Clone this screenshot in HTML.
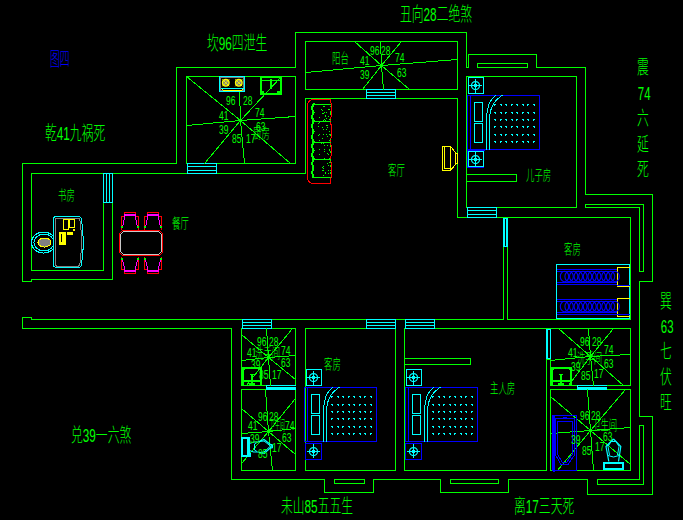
<!DOCTYPE html>
<html><head><meta charset="utf-8"><title>plan</title>
<style>html,body{margin:0;padding:0;background:#000;overflow:hidden}body{width:683px;height:521px;position:relative;font-family:"Liberation Sans",sans-serif}svg{position:absolute;left:0;top:0;display:block}</style>
</head><body>
<svg width="683" height="521" viewBox="0 0 683 521">
<rect width="683" height="521" fill="#000"/>
<g shape-rendering="crispEdges" stroke-linecap="square">
<path d="M112.5,202.5 L112.5,279.5 L31.5,279.5 L31.5,281.5 L22.5,281.5 L22.5,163.5 L176.5,163.5 L176.5,67.5 L295.5,67.5 L295.5,32.5 L466.5,32.5 L466.5,67.5 L468.5,67.5 L468.5,54.5 L536.5,54.5 L536.5,67.5 L585.5,67.5 L585.5,194.5 L652.5,194.5 L652.5,281.5 L639.5,281.5 L639.5,416.5 L652.5,416.5 L652.5,494.5 L587.5,494.5 L587.5,479.5 L508.5,479.5 L508.5,492.5 L440.5,492.5 L440.5,479.5 L373.5,479.5 L373.5,492.5 L324.5,492.5 L324.5,479.5 L231.5,479.5 L231.5,328.5 L22.5,328.5 L22.5,317.5 L31.5,317.5 L31.5,319.5 L503.5,319.5 L503.5,246.5" stroke="#00ff00" stroke-width="1" fill="none" />
<path d="M507.5,246.5 L507.5,319.5 L630.5,319.5 L630.5,217.5 L457.5,217.5 L457.5,98.5 L305.5,98.5 L305.5,173.5 L31.5,173.5 L31.5,270.5 L103.5,270.5 L103.5,202.5" stroke="#00ff00" stroke-width="1" fill="none" />
<rect x="103.5" y="173.5" width="9" height="29" stroke="#00ffff" stroke-width="1" fill="none"/>
<path d="M106.5,173.5 L106.5,202.5" stroke="#00ffff" stroke-width="1" fill="none" />
<path d="M109.5,173.5 L109.5,202.5" stroke="#00ffff" stroke-width="1" fill="none" />
<rect x="186.5" y="76.5" width="109" height="87" stroke="#00ff00" stroke-width="1" fill="none"/>
<rect x="187.5" y="163.5" width="29" height="10" stroke="#00ffff" stroke-width="1" fill="none"/>
<path d="M187.5,166.5 L216.5,166.5" stroke="#00ffff" stroke-width="1" fill="none" />
<path d="M187.5,170.5 L216.5,170.5" stroke="#00ffff" stroke-width="1" fill="none" />
<rect x="305.5" y="41.5" width="152" height="48" stroke="#00ff00" stroke-width="1" fill="none"/>
<rect x="366.5" y="89.5" width="29" height="9" stroke="#00ffff" stroke-width="1" fill="none"/>
<path d="M366.5,92.5 L395.5,92.5" stroke="#00ffff" stroke-width="1" fill="none" />
<path d="M366.5,95.5 L395.5,95.5" stroke="#00ffff" stroke-width="1" fill="none" />
<rect x="466.5" y="76.5" width="110" height="131" stroke="#00ff00" stroke-width="1" fill="none"/>
<rect x="467.5" y="207.5" width="29" height="10" stroke="#00ffff" stroke-width="1" fill="none"/>
<path d="M467.5,210.5 L496.5,210.5" stroke="#00ffff" stroke-width="1" fill="none" />
<path d="M467.5,214.5 L496.5,214.5" stroke="#00ffff" stroke-width="1" fill="none" />
<rect x="477.5" y="63.5" width="50" height="4" stroke="#00ff00" stroke-width="1" fill="none"/>
<path d="M466.5,174.5 L516.5,174.5" stroke="#00ff00" stroke-width="1" fill="none" />
<path d="M466.5,181.5 L516.5,181.5" stroke="#00ff00" stroke-width="1" fill="none" />
<path d="M516.5,174.5 L516.5,181.5" stroke="#00ff00" stroke-width="1" fill="none" />
<path d="M585.5,204.5 L643.5,204.5 L643.5,271.5 L639.5,271.5 L639.5,207.5 L585.5,207.5 Z" stroke="#00ff00" stroke-width="1" fill="none" />
<rect x="503" y="218" width="5" height="29" fill="#00ffff"/>
<rect x="505" y="219" width="1" height="27" fill="#000"/>
<path d="M241.5,328.5 L295.5,328.5" stroke="#00ff00" stroke-width="1" fill="none" />
<rect x="241.5" y="328.5" width="54" height="57" stroke="#00ff00" stroke-width="1" fill="none"/>
<rect x="241.5" y="389.5" width="54" height="81" stroke="#00ff00" stroke-width="1" fill="none"/>
<rect x="266" y="385" width="30" height="5" fill="#00ffff"/>
<rect x="267" y="386" width="29" height="1" fill="#000"/>
<rect x="242.5" y="319.5" width="29" height="9" stroke="#00ffff" stroke-width="1" fill="none"/>
<path d="M242.5,322.5 L271.5,322.5" stroke="#00ffff" stroke-width="1" fill="none" />
<path d="M242.5,325.5 L271.5,325.5" stroke="#00ffff" stroke-width="1" fill="none" />
<path d="M305.5,328.5 L395.5,328.5 L395.5,470.5 L305.5,470.5 Z" stroke="#00ff00" stroke-width="1" fill="none" />
<rect x="366.5" y="319.5" width="29" height="9" stroke="#00ffff" stroke-width="1" fill="none"/>
<path d="M366.5,322.5 L395.5,322.5" stroke="#00ffff" stroke-width="1" fill="none" />
<path d="M366.5,325.5 L395.5,325.5" stroke="#00ffff" stroke-width="1" fill="none" />
<path d="M404.5,328.5 L546.5,328.5 L546.5,470.5 L404.5,470.5 Z" stroke="#00ff00" stroke-width="1" fill="none" />
<path d="M546.5,328.5 L630.5,328.5" stroke="#00ff00" stroke-width="1" fill="none" />
<rect x="405.5" y="319.5" width="29" height="9" stroke="#00ffff" stroke-width="1" fill="none"/>
<path d="M405.5,322.5 L434.5,322.5" stroke="#00ffff" stroke-width="1" fill="none" />
<path d="M405.5,325.5 L434.5,325.5" stroke="#00ffff" stroke-width="1" fill="none" />
<rect x="404.5" y="358.5" width="66" height="6" stroke="#00ff00" stroke-width="1" fill="none"/>
<rect x="550.5" y="328.5" width="80" height="57" stroke="#00ff00" stroke-width="1" fill="none"/>
<rect x="550.5" y="389.5" width="80" height="81" stroke="#00ff00" stroke-width="1" fill="none"/>
<rect x="577" y="385" width="30" height="5" fill="#00ffff"/>
<rect x="578" y="386" width="29" height="1" fill="#000"/>
<rect x="546" y="329" width="2" height="30" fill="#00ffff"/>
<rect x="550" y="329" width="1" height="30" fill="#00ffff"/>
<rect x="546" y="329" width="5" height="1" fill="#00ffff"/>
<rect x="546" y="358" width="5" height="1" fill="#00ffff"/>
<rect x="548" y="330" width="2" height="28" fill="#000"/>
<rect x="334.5" y="479.5" width="30" height="4" stroke="#00ff00" stroke-width="1" fill="none"/>
<rect x="450.5" y="479.5" width="48" height="4" stroke="#00ff00" stroke-width="1" fill="none"/>
<path d="M639.5,425.5 L643.5,425.5 L643.5,484.5 L597.5,484.5 L597.5,479.5 L639.5,479.5 Z" stroke="#00ff00" stroke-width="1" fill="none" />
<path d="M186.5,76.5 L240.5,120.5 L290.5,163.5" stroke="#00ff00" stroke-width="1" fill="none" />
<path d="M204.5,163.5 L240.5,120.5 L280.5,77.5" stroke="#00ff00" stroke-width="1" fill="none" />
<path d="M186.5,125.5 L240.5,120.5 L295.5,116.5" stroke="#00ff00" stroke-width="1" fill="none" />
<path d="M239.5,91.5 L240.5,120.5 L244.5,163.5" stroke="#00ff00" stroke-width="1" fill="none" />
<path d="M354.5,41.5 L381.5,65.5 L409.5,89.5" stroke="#00ff00" stroke-width="1" fill="none" />
<path d="M401.5,41.5 L381.5,65.5 L362.5,89.5" stroke="#00ff00" stroke-width="1" fill="none" />
<path d="M305.5,72.5 L381.5,65.5 L457.5,59.5" stroke="#00ff00" stroke-width="1" fill="none" />
<path d="M380.5,41.5 L381.5,65.5 L383.5,89.5" stroke="#00ff00" stroke-width="1" fill="none" />
<path d="M241.5,334.5 L268.5,357.5 L295.5,379.5" stroke="#00ff00" stroke-width="1" fill="none" />
<path d="M292.5,328.5 L268.5,357.5 L246.5,385.5" stroke="#00ff00" stroke-width="1" fill="none" />
<path d="M266.5,328.5 L268.5,357.5 L270.5,385.5" stroke="#00ff00" stroke-width="1" fill="none" />
<path d="M241.5,360.5 L268.5,357.5 L295.5,355.5" stroke="#00ff00" stroke-width="1" fill="none" />
<path d="M241.5,408.5 L268.5,431.5 L295.5,454.5" stroke="#00ff00" stroke-width="1" fill="none" />
<path d="M295.5,398.5 L268.5,431.5 L241.5,463.5" stroke="#00ff00" stroke-width="1" fill="none" />
<path d="M265.5,389.5 L268.5,431.5 L272.5,470.5" stroke="#00ff00" stroke-width="1" fill="none" />
<path d="M241.5,433.5 L268.5,431.5 L295.5,428.5" stroke="#00ff00" stroke-width="1" fill="none" />
<path d="M558.5,328.5 L590.5,356.5 L623.5,385.5" stroke="#00ff00" stroke-width="1" fill="none" />
<path d="M613.5,328.5 L590.5,356.5 L568.5,385.5" stroke="#00ff00" stroke-width="1" fill="none" />
<path d="M588.5,328.5 L590.5,356.5 L593.5,385.5" stroke="#00ff00" stroke-width="1" fill="none" />
<path d="M550.5,360.5 L590.5,356.5 L630.5,354.5" stroke="#00ff00" stroke-width="1" fill="none" />
<path d="M550.5,396.5 L590.5,430.5 L630.5,464.5" stroke="#00ff00" stroke-width="1" fill="none" />
<path d="M625.5,389.5 L590.5,430.5 L557.5,470.5" stroke="#00ff00" stroke-width="1" fill="none" />
<path d="M587.5,389.5 L590.5,430.5 L593.5,470.5" stroke="#00ff00" stroke-width="1" fill="none" />
<path d="M550.5,433.5 L590.5,430.5 L630.5,427.5" stroke="#00ff00" stroke-width="1" fill="none" />
<g fill="none" stroke-width="1"><ellipse cx="43.5" cy="242.5" rx="12" ry="10.5" stroke="#00ffff"/><ellipse cx="44" cy="242.5" rx="10" ry="8.5" stroke="#00ffff"/><path d="M56,216.5 L79,216.5 Q81.5,217 81.5,220 Q85,241 81.5,264 Q81.5,267 79,267.5 L56,267.5 Q53.5,267 53.5,265 L53.5,219 Q53.5,217 56,216.5 Z" stroke="#00ffff" fill="#000"/><path d="M56,218 L78.5,218 Q80,218.5 80,221 Q83,241 80,263 Q80,265.5 78.5,266 L56.5,266 Q55,265.5 55,264 L55,220 Q55,218.5 56,218 Z" stroke="#808080"/><ellipse cx="44.5" cy="242.5" rx="6.5" ry="4.5" stroke="#ffff00" fill="#808080"/></g>
<rect x="63.5" y="219.5" width="5" height="10" stroke="#ffff00" stroke-width="1" fill="none"/>
<rect x="69.5" y="219.5" width="5" height="8" stroke="#ffff00" stroke-width="1" fill="none"/>
<rect x="59" y="232" width="7" height="13" fill="#ffff00"/>
<rect x="61" y="234" width="1" height="8" fill="#000"/>
<rect x="67" y="232" width="6" height="3" fill="#ffff00"/>
<rect x="73" y="229" width="2" height="2" fill="#ffff00"/>
<path d="M122.5,230.5 L159.5,230.5 L162.5,233.5 L162.5,252.5 L159.5,255.5 L122.5,255.5 L119.5,252.5 L119.5,233.5 Z" stroke="#ff0000" stroke-width="1" fill="none" />
<path d="M123.5,231.5 L158.5,231.5 L161.5,234.5 L161.5,251.5 L158.5,254.5 L123.5,254.5 L120.5,251.5 L120.5,234.5 Z" stroke="#c8c8c8" stroke-width="1" fill="none" />
<path d="M121.5,229.5 L121.5,216.5 L124.5,216.5 L124.5,212.5 L135.5,212.5 L135.5,216.5 L138.5,216.5 L138.5,229.5" stroke="#ff0000" stroke-width="1" fill="none" />
<path d="M122.5,227.5 L124.5,217.5 L124.5,214.5 L135.5,214.5 L135.5,217.5 L137.5,227.5" stroke="#ff00ff" stroke-width="1" fill="none" />
<path d="M124.5,215.5 L135.5,215.5" stroke="#ff00ff" stroke-width="1" fill="none" />
<rect x="121" y="226" width="2" height="2" fill="#00ff00"/>
<rect x="137" y="226" width="2" height="2" fill="#00ff00"/>
<path d="M144.5,229.5 L144.5,216.5 L147.5,216.5 L147.5,212.5 L158.5,212.5 L158.5,216.5 L161.5,216.5 L161.5,229.5" stroke="#ff0000" stroke-width="1" fill="none" />
<path d="M145.5,227.5 L147.5,217.5 L147.5,214.5 L158.5,214.5 L158.5,217.5 L160.5,227.5" stroke="#ff00ff" stroke-width="1" fill="none" />
<path d="M147.5,215.5 L158.5,215.5" stroke="#ff00ff" stroke-width="1" fill="none" />
<rect x="144" y="226" width="2" height="2" fill="#00ff00"/>
<rect x="160" y="226" width="2" height="2" fill="#00ff00"/>
<path d="M121.5,257.5 L121.5,269.5 L124.5,269.5 L124.5,273.5 L135.5,273.5 L135.5,269.5 L138.5,269.5 L138.5,257.5" stroke="#ff0000" stroke-width="1" fill="none" />
<path d="M122.5,259.5 L124.5,268.5 L124.5,271.5 L135.5,271.5 L135.5,268.5 L137.5,259.5" stroke="#ff00ff" stroke-width="1" fill="none" />
<path d="M124.5,270.5 L135.5,270.5" stroke="#ff00ff" stroke-width="1" fill="none" />
<rect x="121" y="258" width="2" height="2" fill="#00ff00"/>
<rect x="137" y="258" width="2" height="2" fill="#00ff00"/>
<path d="M144.5,257.5 L144.5,269.5 L147.5,269.5 L147.5,273.5 L158.5,273.5 L158.5,269.5 L161.5,269.5 L161.5,257.5" stroke="#ff0000" stroke-width="1" fill="none" />
<path d="M145.5,259.5 L147.5,268.5 L147.5,271.5 L158.5,271.5 L158.5,268.5 L160.5,259.5" stroke="#ff00ff" stroke-width="1" fill="none" />
<path d="M147.5,270.5 L158.5,270.5" stroke="#ff00ff" stroke-width="1" fill="none" />
<rect x="144" y="258" width="2" height="2" fill="#00ff00"/>
<rect x="160" y="258" width="2" height="2" fill="#00ff00"/>
<rect x="219.5" y="76.5" width="25" height="15" stroke="#00ffff" stroke-width="1" fill="none"/>
<rect x="220.5" y="77.5" width="23" height="13" stroke="#808080" stroke-width="1" fill="none"/>
<path d="M221.5,88.5 L243.5,88.5" stroke="#00ffff" stroke-width="1" fill="none" />
<path d="M222.5,89.5 L223.5,90.5 L241.5,90.5 L242.5,89.5" stroke="#ffff00" stroke-width="1" fill="none" />
<rect x="260.5" y="76.5" width="20" height="17" stroke="#00ff00" stroke-width="2" fill="none"/>
<path d="M262.5,80.5 L279.5,80.5" stroke="#00ff00" stroke-width="1" fill="none" />
<path d="M270.5,79.5 L270.5,87.5" stroke="#00ff00" stroke-width="2" fill="none" />
<rect x="261" y="91" width="3" height="3" fill="#00ff00"/>
<rect x="277" y="91" width="3" height="3" fill="#00ff00"/>
<path d="M330.5,99.5 L313,99.5 Q307.5,100 307.5,106 L307.5,177 Q307.5,183 313,183.5 L330.5,183.5" stroke="#ff0000" fill="none"/>
<path d="M330.5,99.5 Q332.5,110 330.5,121 Q332.5,131 330.5,142 Q332.5,150 330.5,159 Q332.5,168 330.5,183.5" stroke="#ff0000" fill="none"/>
<path d="M312.5,104.5 L330.5,104.5" stroke="#00ff00" stroke-width="1" fill="none" />
<path d="M313.5,104 Q311,108.25 313.5,112.5 Q311,116.75 313.5,121" stroke="#00ff00" stroke-width="2" fill="none"/>
<path d="M312.5,121.5 L330.5,121.5" stroke="#00ff00" stroke-width="1" fill="none" />
<path d="M313.5,121 Q311,126.25 313.5,131.5 Q311,136.75 313.5,142" stroke="#00ff00" stroke-width="2" fill="none"/>
<path d="M312.5,142.5 L330.5,142.5" stroke="#00ff00" stroke-width="1" fill="none" />
<path d="M313.5,142 Q311,146.25 313.5,150.5 Q311,154.75 313.5,159" stroke="#00ff00" stroke-width="2" fill="none"/>
<path d="M312.5,159.5 L330.5,159.5" stroke="#00ff00" stroke-width="1" fill="none" />
<path d="M313.5,159 Q311,163.5 313.5,168 Q311,172.5 313.5,177" stroke="#00ff00" stroke-width="2" fill="none"/>
<path d="M312.5,177.5 L330.5,177.5" stroke="#00ff00" stroke-width="1" fill="none" />
<rect x="323" y="113" width="1" height="1" fill="#00ff00"/>
<rect x="325" y="116" width="1" height="1" fill="#00ff00"/>
<rect x="319" y="134" width="1" height="1" fill="#00ff00"/>
<rect x="330" y="162" width="1" height="1" fill="#00ff00"/>
<rect x="329" y="121" width="1" height="1" fill="#00ff00"/>
<rect x="326" y="125" width="1" height="1" fill="#00ff00"/>
<rect x="322" y="113" width="1" height="1" fill="#00ff00"/>
<rect x="322" y="170" width="1" height="1" fill="#00ff00"/>
<rect x="329" y="162" width="1" height="1" fill="#00ff00"/>
<rect x="329" y="119" width="1" height="1" fill="#00ff00"/>
<rect x="324" y="149" width="1" height="1" fill="#00ff00"/>
<rect x="328" y="165" width="1" height="1" fill="#00ff00"/>
<rect x="330" y="112" width="1" height="1" fill="#00ff00"/>
<rect x="327" y="153" width="1" height="1" fill="#00ff00"/>
<rect x="326" y="118" width="1" height="1" fill="#00ff00"/>
<rect x="326" y="112" width="1" height="1" fill="#00ff00"/>
<rect x="330" y="166" width="1" height="1" fill="#00ff00"/>
<rect x="327" y="127" width="1" height="1" fill="#00ff00"/>
<rect x="330" y="146" width="1" height="1" fill="#00ff00"/>
<rect x="330" y="165" width="1" height="1" fill="#00ff00"/>
<rect x="326" y="134" width="1" height="1" fill="#00ff00"/>
<rect x="327" y="136" width="1" height="1" fill="#00ff00"/>
<rect x="322" y="127" width="1" height="1" fill="#00ff00"/>
<rect x="329" y="109" width="1" height="1" fill="#00ff00"/>
<rect x="319" y="149" width="1" height="1" fill="#00ff00"/>
<rect x="323" y="143" width="1" height="1" fill="#00ff00"/>
<rect x="326" y="129" width="1" height="1" fill="#00ff00"/>
<rect x="330" y="119" width="1" height="1" fill="#00ff00"/>
<rect x="325" y="120" width="1" height="1" fill="#00ff00"/>
<rect x="327" y="125" width="1" height="1" fill="#00ff00"/>
<rect x="324" y="158" width="1" height="1" fill="#00ff00"/>
<rect x="324" y="145" width="1" height="1" fill="#00ff00"/>
<rect x="330" y="113" width="1" height="1" fill="#00ff00"/>
<rect x="319" y="122" width="1" height="1" fill="#00ff00"/>
<rect x="329" y="149" width="1" height="1" fill="#00ff00"/>
<rect x="323" y="129" width="1" height="1" fill="#00ff00"/>
<rect x="322" y="138" width="1" height="1" fill="#00ff00"/>
<rect x="319" y="154" width="1" height="1" fill="#00ff00"/>
<rect x="330" y="172" width="1" height="1" fill="#00ff00"/>
<rect x="328" y="173" width="1" height="1" fill="#00ff00"/>
<rect x="318" y="126" width="1" height="1" fill="#00ff00"/>
<rect x="330" y="160" width="1" height="1" fill="#00ff00"/>
<rect x="325" y="172" width="1" height="1" fill="#00ff00"/>
<rect x="327" y="163" width="1" height="1" fill="#00ff00"/>
<rect x="324" y="119" width="1" height="1" fill="#00ff00"/>
<rect x="325" y="115" width="1" height="1" fill="#00ff00"/>
<rect x="325" y="173" width="1" height="1" fill="#00ff00"/>
<rect x="324" y="106" width="1" height="1" fill="#00ff00"/>
<rect x="319" y="117" width="1" height="1" fill="#00ff00"/>
<rect x="329" y="131" width="1" height="1" fill="#00ff00"/>
<rect x="324" y="112" width="1" height="1" fill="#00ff00"/>
<rect x="330" y="135" width="1" height="1" fill="#00ff00"/>
<rect x="322" y="110" width="1" height="1" fill="#00ff00"/>
<rect x="319" y="117" width="1" height="1" fill="#00ff00"/>
<rect x="328" y="116" width="1" height="1" fill="#00ff00"/>
<rect x="319" y="140" width="1" height="1" fill="#00ff00"/>
<rect x="323" y="175" width="1" height="1" fill="#00ff00"/>
<rect x="321" y="143" width="1" height="1" fill="#00ff00"/>
<rect x="329" y="134" width="1" height="1" fill="#00ff00"/>
<rect x="330" y="139" width="1" height="1" fill="#00ff00"/>
<rect x="323" y="134" width="1" height="1" fill="#00ff00"/>
<rect x="318" y="135" width="1" height="1" fill="#00ff00"/>
<rect x="323" y="168" width="1" height="1" fill="#00ff00"/>
<rect x="329" y="140" width="1" height="1" fill="#00ff00"/>
<rect x="318" y="123" width="1" height="1" fill="#00ff00"/>
<rect x="323" y="120" width="1" height="1" fill="#00ff00"/>
<rect x="323" y="166" width="1" height="1" fill="#00ff00"/>
<rect x="321" y="109" width="1" height="1" fill="#00ff00"/>
<rect x="330" y="145" width="1" height="1" fill="#00ff00"/>
<rect x="330" y="134" width="1" height="1" fill="#00ff00"/>
<rect x="330" y="151" width="1" height="1" fill="#00ff00"/>
<rect x="329" y="158" width="1" height="1" fill="#00ff00"/>
<rect x="326" y="112" width="1" height="1" fill="#00ff00"/>
<rect x="322" y="167" width="1" height="1" fill="#00ff00"/>
<rect x="330" y="170" width="1" height="1" fill="#00ff00"/>
<rect x="324" y="151" width="1" height="1" fill="#00ff00"/>
<rect x="329" y="150" width="1" height="1" fill="#00ff00"/>
<rect x="329" y="142" width="1" height="1" fill="#00ff00"/>
<rect x="328" y="154" width="1" height="1" fill="#00ff00"/>
<rect x="323" y="170" width="1" height="1" fill="#00ff00"/>
<rect x="330" y="111" width="1" height="1" fill="#00ff00"/>
<rect x="330" y="173" width="1" height="1" fill="#00ff00"/>
<rect x="328" y="109" width="1" height="1" fill="#00ff00"/>
<rect x="330" y="114" width="1" height="1" fill="#00ff00"/>
<rect x="330" y="152" width="1" height="1" fill="#00ff00"/>
<rect x="319" y="117" width="1" height="1" fill="#00ff00"/>
<rect x="327" y="145" width="1" height="1" fill="#00ff00"/>
<rect x="328" y="170" width="1" height="1" fill="#00ff00"/>
<rect x="323" y="106" width="1" height="1" fill="#00ff00"/>
<rect x="330" y="106" width="1" height="1" fill="#00ff00"/>
<rect x="442.5" y="146.5" width="8" height="24" stroke="#ffff00" stroke-width="1" fill="none"/>
<path d="M444.5,147.5 L444.5,168.5 L450.5,168.5" stroke="#ffff00" stroke-width="1" fill="none" />
<path d="M450.5,146.5 L455.5,152.5 L455.5,164.5 L450.5,170.5" stroke="#ffff00" stroke-width="1" fill="none" />
<rect x="455.5" y="153.5" width="2" height="10" stroke="#ffff00" stroke-width="1" fill="none"/>
<rect x="468.5" y="77.5" width="15" height="16" stroke="#00ffff" stroke-width="1" fill="none"/>
<path d="M468.5,85.5 L481.5,85.5" stroke="#00ffff" stroke-width="1" fill="none" />
<path d="M475.5,79.5 L475.5,93.5" stroke="#00ffff" stroke-width="1" fill="none" />
<rect x="474" y="84" width="3" height="3" fill="#00ffff"/>
<rect x="467.5" y="95.5" width="72" height="54" stroke="#0000ff" stroke-width="1" fill="none"/>
<path d="M470.5,95.5 L470.5,149.5" stroke="#0000ff" stroke-width="1" fill="none" />
<rect x="474.5" y="102.5" width="8" height="19" stroke="#00ffff" stroke-width="1" fill="none"/>
<rect x="474.5" y="123.5" width="8" height="19" stroke="#00ffff" stroke-width="1" fill="none"/>
<path d="M486.5,149 L486.5,117 Q487.5,101 495.5,95.5" stroke="#00ffff" fill="none"/>
<path d="M489.5,149 L489.5,117 Q491,102 502,95.5" stroke="#00ffff" fill="none"/>
<rect x="494" y="104" width="2" height="1" fill="#00ffff"/>
<rect x="494" y="105" width="1" height="1" fill="#00ffff"/>
<rect x="500" y="104" width="2" height="1" fill="#00ffff"/>
<rect x="501" y="105" width="1" height="1" fill="#00ffff"/>
<rect x="505" y="104" width="2" height="1" fill="#00ffff"/>
<rect x="506" y="105" width="1" height="1" fill="#00ffff"/>
<rect x="511" y="104" width="2" height="1" fill="#00ffff"/>
<rect x="511" y="105" width="1" height="1" fill="#00ffff"/>
<rect x="516" y="104" width="2" height="1" fill="#00ffff"/>
<rect x="517" y="105" width="1" height="1" fill="#00ffff"/>
<rect x="522" y="104" width="2" height="1" fill="#00ffff"/>
<rect x="523" y="105" width="1" height="1" fill="#00ffff"/>
<rect x="527" y="104" width="2" height="1" fill="#00ffff"/>
<rect x="527" y="105" width="1" height="1" fill="#00ffff"/>
<rect x="533" y="104" width="2" height="1" fill="#00ffff"/>
<rect x="534" y="105" width="1" height="1" fill="#00ffff"/>
<rect x="494" y="112" width="2" height="1" fill="#00ffff"/>
<rect x="495" y="113" width="1" height="1" fill="#00ffff"/>
<rect x="500" y="112" width="2" height="1" fill="#00ffff"/>
<rect x="501" y="113" width="1" height="1" fill="#00ffff"/>
<rect x="505" y="112" width="2" height="1" fill="#00ffff"/>
<rect x="505" y="113" width="1" height="1" fill="#00ffff"/>
<rect x="511" y="112" width="2" height="1" fill="#00ffff"/>
<rect x="512" y="113" width="1" height="1" fill="#00ffff"/>
<rect x="516" y="112" width="2" height="1" fill="#00ffff"/>
<rect x="517" y="113" width="1" height="1" fill="#00ffff"/>
<rect x="522" y="112" width="2" height="1" fill="#00ffff"/>
<rect x="522" y="113" width="1" height="1" fill="#00ffff"/>
<rect x="527" y="112" width="2" height="1" fill="#00ffff"/>
<rect x="528" y="113" width="1" height="1" fill="#00ffff"/>
<rect x="533" y="112" width="2" height="1" fill="#00ffff"/>
<rect x="534" y="113" width="1" height="1" fill="#00ffff"/>
<rect x="494" y="119" width="2" height="1" fill="#00ffff"/>
<rect x="495" y="120" width="1" height="1" fill="#00ffff"/>
<rect x="500" y="119" width="2" height="1" fill="#00ffff"/>
<rect x="500" y="120" width="1" height="1" fill="#00ffff"/>
<rect x="505" y="119" width="2" height="1" fill="#00ffff"/>
<rect x="506" y="120" width="1" height="1" fill="#00ffff"/>
<rect x="511" y="119" width="2" height="1" fill="#00ffff"/>
<rect x="512" y="120" width="1" height="1" fill="#00ffff"/>
<rect x="516" y="119" width="2" height="1" fill="#00ffff"/>
<rect x="516" y="120" width="1" height="1" fill="#00ffff"/>
<rect x="522" y="119" width="2" height="1" fill="#00ffff"/>
<rect x="523" y="120" width="1" height="1" fill="#00ffff"/>
<rect x="527" y="119" width="2" height="1" fill="#00ffff"/>
<rect x="528" y="120" width="1" height="1" fill="#00ffff"/>
<rect x="533" y="119" width="2" height="1" fill="#00ffff"/>
<rect x="533" y="120" width="1" height="1" fill="#00ffff"/>
<rect x="494" y="126" width="2" height="1" fill="#00ffff"/>
<rect x="494" y="127" width="1" height="1" fill="#00ffff"/>
<rect x="500" y="126" width="2" height="1" fill="#00ffff"/>
<rect x="501" y="127" width="1" height="1" fill="#00ffff"/>
<rect x="505" y="126" width="2" height="1" fill="#00ffff"/>
<rect x="506" y="127" width="1" height="1" fill="#00ffff"/>
<rect x="511" y="126" width="2" height="1" fill="#00ffff"/>
<rect x="511" y="127" width="1" height="1" fill="#00ffff"/>
<rect x="516" y="126" width="2" height="1" fill="#00ffff"/>
<rect x="517" y="127" width="1" height="1" fill="#00ffff"/>
<rect x="522" y="126" width="2" height="1" fill="#00ffff"/>
<rect x="523" y="127" width="1" height="1" fill="#00ffff"/>
<rect x="527" y="126" width="2" height="1" fill="#00ffff"/>
<rect x="527" y="127" width="1" height="1" fill="#00ffff"/>
<rect x="533" y="126" width="2" height="1" fill="#00ffff"/>
<rect x="534" y="127" width="1" height="1" fill="#00ffff"/>
<rect x="494" y="134" width="2" height="1" fill="#00ffff"/>
<rect x="495" y="135" width="1" height="1" fill="#00ffff"/>
<rect x="500" y="134" width="2" height="1" fill="#00ffff"/>
<rect x="501" y="135" width="1" height="1" fill="#00ffff"/>
<rect x="505" y="134" width="2" height="1" fill="#00ffff"/>
<rect x="505" y="135" width="1" height="1" fill="#00ffff"/>
<rect x="511" y="134" width="2" height="1" fill="#00ffff"/>
<rect x="512" y="135" width="1" height="1" fill="#00ffff"/>
<rect x="516" y="134" width="2" height="1" fill="#00ffff"/>
<rect x="517" y="135" width="1" height="1" fill="#00ffff"/>
<rect x="522" y="134" width="2" height="1" fill="#00ffff"/>
<rect x="522" y="135" width="1" height="1" fill="#00ffff"/>
<rect x="527" y="134" width="2" height="1" fill="#00ffff"/>
<rect x="528" y="135" width="1" height="1" fill="#00ffff"/>
<rect x="533" y="134" width="2" height="1" fill="#00ffff"/>
<rect x="534" y="135" width="1" height="1" fill="#00ffff"/>
<rect x="494" y="141" width="2" height="1" fill="#00ffff"/>
<rect x="495" y="142" width="1" height="1" fill="#00ffff"/>
<rect x="500" y="141" width="2" height="1" fill="#00ffff"/>
<rect x="500" y="142" width="1" height="1" fill="#00ffff"/>
<rect x="505" y="141" width="2" height="1" fill="#00ffff"/>
<rect x="506" y="142" width="1" height="1" fill="#00ffff"/>
<rect x="511" y="141" width="2" height="1" fill="#00ffff"/>
<rect x="512" y="142" width="1" height="1" fill="#00ffff"/>
<rect x="516" y="141" width="2" height="1" fill="#00ffff"/>
<rect x="516" y="142" width="1" height="1" fill="#00ffff"/>
<rect x="522" y="141" width="2" height="1" fill="#00ffff"/>
<rect x="523" y="142" width="1" height="1" fill="#00ffff"/>
<rect x="527" y="141" width="2" height="1" fill="#00ffff"/>
<rect x="528" y="142" width="1" height="1" fill="#00ffff"/>
<rect x="533" y="141" width="2" height="1" fill="#00ffff"/>
<rect x="533" y="142" width="1" height="1" fill="#00ffff"/>
<rect x="467.5" y="151.5" width="16" height="16" stroke="#0000ff" stroke-width="1" fill="none"/>
<path d="M469.5,159.5 L481.5,159.5" stroke="#00ffff" stroke-width="1" fill="none" />
<path d="M475.5,152.5 L475.5,165.5" stroke="#00ffff" stroke-width="1" fill="none" />
<rect x="474" y="158" width="3" height="3" fill="#00ffff"/>
<rect x="468.5" y="151.5" width="15" height="15" stroke="#00ffff" stroke-width="1" fill="none"/>
<path d="M467.5,150.5 L484.5,150.5" stroke="#0000ff" stroke-width="1" fill="none" />
<rect x="306.5" y="369.5" width="15" height="16" stroke="#00ffff" stroke-width="1" fill="none"/>
<path d="M306.5,377.5 L319.5,377.5" stroke="#00ffff" stroke-width="1" fill="none" />
<path d="M313.5,371.5 L313.5,385.5" stroke="#00ffff" stroke-width="1" fill="none" />
<rect x="312" y="376" width="3" height="3" fill="#00ffff"/>
<rect x="304.5" y="387.5" width="72" height="54" stroke="#0000ff" stroke-width="1" fill="none"/>
<path d="M307.5,387.5 L307.5,441.5" stroke="#0000ff" stroke-width="1" fill="none" />
<rect x="311.5" y="394.5" width="8" height="19" stroke="#00ffff" stroke-width="1" fill="none"/>
<rect x="311.5" y="415.5" width="8" height="19" stroke="#00ffff" stroke-width="1" fill="none"/>
<path d="M323.5,441 L323.5,409 Q324.5,393 332.5,387.5" stroke="#00ffff" fill="none"/>
<path d="M326.5,441 L326.5,409 Q328,394 339,387.5" stroke="#00ffff" fill="none"/>
<rect x="331" y="396" width="2" height="1" fill="#00ffff"/>
<rect x="331" y="397" width="1" height="1" fill="#00ffff"/>
<rect x="337" y="396" width="2" height="1" fill="#00ffff"/>
<rect x="338" y="397" width="1" height="1" fill="#00ffff"/>
<rect x="342" y="396" width="2" height="1" fill="#00ffff"/>
<rect x="343" y="397" width="1" height="1" fill="#00ffff"/>
<rect x="348" y="396" width="2" height="1" fill="#00ffff"/>
<rect x="348" y="397" width="1" height="1" fill="#00ffff"/>
<rect x="353" y="396" width="2" height="1" fill="#00ffff"/>
<rect x="354" y="397" width="1" height="1" fill="#00ffff"/>
<rect x="359" y="396" width="2" height="1" fill="#00ffff"/>
<rect x="360" y="397" width="1" height="1" fill="#00ffff"/>
<rect x="364" y="396" width="2" height="1" fill="#00ffff"/>
<rect x="364" y="397" width="1" height="1" fill="#00ffff"/>
<rect x="370" y="396" width="2" height="1" fill="#00ffff"/>
<rect x="371" y="397" width="1" height="1" fill="#00ffff"/>
<rect x="331" y="404" width="2" height="1" fill="#00ffff"/>
<rect x="332" y="405" width="1" height="1" fill="#00ffff"/>
<rect x="337" y="404" width="2" height="1" fill="#00ffff"/>
<rect x="338" y="405" width="1" height="1" fill="#00ffff"/>
<rect x="342" y="404" width="2" height="1" fill="#00ffff"/>
<rect x="342" y="405" width="1" height="1" fill="#00ffff"/>
<rect x="348" y="404" width="2" height="1" fill="#00ffff"/>
<rect x="349" y="405" width="1" height="1" fill="#00ffff"/>
<rect x="353" y="404" width="2" height="1" fill="#00ffff"/>
<rect x="354" y="405" width="1" height="1" fill="#00ffff"/>
<rect x="359" y="404" width="2" height="1" fill="#00ffff"/>
<rect x="359" y="405" width="1" height="1" fill="#00ffff"/>
<rect x="364" y="404" width="2" height="1" fill="#00ffff"/>
<rect x="365" y="405" width="1" height="1" fill="#00ffff"/>
<rect x="370" y="404" width="2" height="1" fill="#00ffff"/>
<rect x="371" y="405" width="1" height="1" fill="#00ffff"/>
<rect x="331" y="411" width="2" height="1" fill="#00ffff"/>
<rect x="332" y="412" width="1" height="1" fill="#00ffff"/>
<rect x="337" y="411" width="2" height="1" fill="#00ffff"/>
<rect x="337" y="412" width="1" height="1" fill="#00ffff"/>
<rect x="342" y="411" width="2" height="1" fill="#00ffff"/>
<rect x="343" y="412" width="1" height="1" fill="#00ffff"/>
<rect x="348" y="411" width="2" height="1" fill="#00ffff"/>
<rect x="349" y="412" width="1" height="1" fill="#00ffff"/>
<rect x="353" y="411" width="2" height="1" fill="#00ffff"/>
<rect x="353" y="412" width="1" height="1" fill="#00ffff"/>
<rect x="359" y="411" width="2" height="1" fill="#00ffff"/>
<rect x="360" y="412" width="1" height="1" fill="#00ffff"/>
<rect x="364" y="411" width="2" height="1" fill="#00ffff"/>
<rect x="365" y="412" width="1" height="1" fill="#00ffff"/>
<rect x="370" y="411" width="2" height="1" fill="#00ffff"/>
<rect x="370" y="412" width="1" height="1" fill="#00ffff"/>
<rect x="331" y="418" width="2" height="1" fill="#00ffff"/>
<rect x="331" y="419" width="1" height="1" fill="#00ffff"/>
<rect x="337" y="418" width="2" height="1" fill="#00ffff"/>
<rect x="338" y="419" width="1" height="1" fill="#00ffff"/>
<rect x="342" y="418" width="2" height="1" fill="#00ffff"/>
<rect x="343" y="419" width="1" height="1" fill="#00ffff"/>
<rect x="348" y="418" width="2" height="1" fill="#00ffff"/>
<rect x="348" y="419" width="1" height="1" fill="#00ffff"/>
<rect x="353" y="418" width="2" height="1" fill="#00ffff"/>
<rect x="354" y="419" width="1" height="1" fill="#00ffff"/>
<rect x="359" y="418" width="2" height="1" fill="#00ffff"/>
<rect x="360" y="419" width="1" height="1" fill="#00ffff"/>
<rect x="364" y="418" width="2" height="1" fill="#00ffff"/>
<rect x="364" y="419" width="1" height="1" fill="#00ffff"/>
<rect x="370" y="418" width="2" height="1" fill="#00ffff"/>
<rect x="371" y="419" width="1" height="1" fill="#00ffff"/>
<rect x="331" y="426" width="2" height="1" fill="#00ffff"/>
<rect x="332" y="427" width="1" height="1" fill="#00ffff"/>
<rect x="337" y="426" width="2" height="1" fill="#00ffff"/>
<rect x="338" y="427" width="1" height="1" fill="#00ffff"/>
<rect x="342" y="426" width="2" height="1" fill="#00ffff"/>
<rect x="342" y="427" width="1" height="1" fill="#00ffff"/>
<rect x="348" y="426" width="2" height="1" fill="#00ffff"/>
<rect x="349" y="427" width="1" height="1" fill="#00ffff"/>
<rect x="353" y="426" width="2" height="1" fill="#00ffff"/>
<rect x="354" y="427" width="1" height="1" fill="#00ffff"/>
<rect x="359" y="426" width="2" height="1" fill="#00ffff"/>
<rect x="359" y="427" width="1" height="1" fill="#00ffff"/>
<rect x="364" y="426" width="2" height="1" fill="#00ffff"/>
<rect x="365" y="427" width="1" height="1" fill="#00ffff"/>
<rect x="370" y="426" width="2" height="1" fill="#00ffff"/>
<rect x="371" y="427" width="1" height="1" fill="#00ffff"/>
<rect x="331" y="433" width="2" height="1" fill="#00ffff"/>
<rect x="332" y="434" width="1" height="1" fill="#00ffff"/>
<rect x="337" y="433" width="2" height="1" fill="#00ffff"/>
<rect x="337" y="434" width="1" height="1" fill="#00ffff"/>
<rect x="342" y="433" width="2" height="1" fill="#00ffff"/>
<rect x="343" y="434" width="1" height="1" fill="#00ffff"/>
<rect x="348" y="433" width="2" height="1" fill="#00ffff"/>
<rect x="349" y="434" width="1" height="1" fill="#00ffff"/>
<rect x="353" y="433" width="2" height="1" fill="#00ffff"/>
<rect x="353" y="434" width="1" height="1" fill="#00ffff"/>
<rect x="359" y="433" width="2" height="1" fill="#00ffff"/>
<rect x="360" y="434" width="1" height="1" fill="#00ffff"/>
<rect x="364" y="433" width="2" height="1" fill="#00ffff"/>
<rect x="365" y="434" width="1" height="1" fill="#00ffff"/>
<rect x="370" y="433" width="2" height="1" fill="#00ffff"/>
<rect x="370" y="434" width="1" height="1" fill="#00ffff"/>
<rect x="305.5" y="443.5" width="16" height="16" stroke="#0000ff" stroke-width="1" fill="none"/>
<path d="M307.5,451.5 L319.5,451.5" stroke="#00ffff" stroke-width="1" fill="none" />
<path d="M313.5,444.5 L313.5,457.5" stroke="#00ffff" stroke-width="1" fill="none" />
<rect x="312" y="450" width="3" height="3" fill="#00ffff"/>
<rect x="406.5" y="369.5" width="15" height="16" stroke="#00ffff" stroke-width="1" fill="none"/>
<path d="M406.5,377.5 L419.5,377.5" stroke="#00ffff" stroke-width="1" fill="none" />
<path d="M413.5,371.5 L413.5,385.5" stroke="#00ffff" stroke-width="1" fill="none" />
<rect x="412" y="376" width="3" height="3" fill="#00ffff"/>
<rect x="405.5" y="387.5" width="72" height="54" stroke="#0000ff" stroke-width="1" fill="none"/>
<path d="M408.5,387.5 L408.5,441.5" stroke="#0000ff" stroke-width="1" fill="none" />
<rect x="412.5" y="394.5" width="8" height="19" stroke="#00ffff" stroke-width="1" fill="none"/>
<rect x="412.5" y="415.5" width="8" height="19" stroke="#00ffff" stroke-width="1" fill="none"/>
<path d="M424.5,441 L424.5,409 Q425.5,393 433.5,387.5" stroke="#00ffff" fill="none"/>
<path d="M427.5,441 L427.5,409 Q429,394 440,387.5" stroke="#00ffff" fill="none"/>
<rect x="432" y="396" width="2" height="1" fill="#00ffff"/>
<rect x="432" y="397" width="1" height="1" fill="#00ffff"/>
<rect x="438" y="396" width="2" height="1" fill="#00ffff"/>
<rect x="439" y="397" width="1" height="1" fill="#00ffff"/>
<rect x="443" y="396" width="2" height="1" fill="#00ffff"/>
<rect x="444" y="397" width="1" height="1" fill="#00ffff"/>
<rect x="449" y="396" width="2" height="1" fill="#00ffff"/>
<rect x="449" y="397" width="1" height="1" fill="#00ffff"/>
<rect x="454" y="396" width="2" height="1" fill="#00ffff"/>
<rect x="455" y="397" width="1" height="1" fill="#00ffff"/>
<rect x="460" y="396" width="2" height="1" fill="#00ffff"/>
<rect x="461" y="397" width="1" height="1" fill="#00ffff"/>
<rect x="465" y="396" width="2" height="1" fill="#00ffff"/>
<rect x="465" y="397" width="1" height="1" fill="#00ffff"/>
<rect x="471" y="396" width="2" height="1" fill="#00ffff"/>
<rect x="472" y="397" width="1" height="1" fill="#00ffff"/>
<rect x="432" y="404" width="2" height="1" fill="#00ffff"/>
<rect x="433" y="405" width="1" height="1" fill="#00ffff"/>
<rect x="438" y="404" width="2" height="1" fill="#00ffff"/>
<rect x="439" y="405" width="1" height="1" fill="#00ffff"/>
<rect x="443" y="404" width="2" height="1" fill="#00ffff"/>
<rect x="443" y="405" width="1" height="1" fill="#00ffff"/>
<rect x="449" y="404" width="2" height="1" fill="#00ffff"/>
<rect x="450" y="405" width="1" height="1" fill="#00ffff"/>
<rect x="454" y="404" width="2" height="1" fill="#00ffff"/>
<rect x="455" y="405" width="1" height="1" fill="#00ffff"/>
<rect x="460" y="404" width="2" height="1" fill="#00ffff"/>
<rect x="460" y="405" width="1" height="1" fill="#00ffff"/>
<rect x="465" y="404" width="2" height="1" fill="#00ffff"/>
<rect x="466" y="405" width="1" height="1" fill="#00ffff"/>
<rect x="471" y="404" width="2" height="1" fill="#00ffff"/>
<rect x="472" y="405" width="1" height="1" fill="#00ffff"/>
<rect x="432" y="411" width="2" height="1" fill="#00ffff"/>
<rect x="433" y="412" width="1" height="1" fill="#00ffff"/>
<rect x="438" y="411" width="2" height="1" fill="#00ffff"/>
<rect x="438" y="412" width="1" height="1" fill="#00ffff"/>
<rect x="443" y="411" width="2" height="1" fill="#00ffff"/>
<rect x="444" y="412" width="1" height="1" fill="#00ffff"/>
<rect x="449" y="411" width="2" height="1" fill="#00ffff"/>
<rect x="450" y="412" width="1" height="1" fill="#00ffff"/>
<rect x="454" y="411" width="2" height="1" fill="#00ffff"/>
<rect x="454" y="412" width="1" height="1" fill="#00ffff"/>
<rect x="460" y="411" width="2" height="1" fill="#00ffff"/>
<rect x="461" y="412" width="1" height="1" fill="#00ffff"/>
<rect x="465" y="411" width="2" height="1" fill="#00ffff"/>
<rect x="466" y="412" width="1" height="1" fill="#00ffff"/>
<rect x="471" y="411" width="2" height="1" fill="#00ffff"/>
<rect x="471" y="412" width="1" height="1" fill="#00ffff"/>
<rect x="432" y="418" width="2" height="1" fill="#00ffff"/>
<rect x="432" y="419" width="1" height="1" fill="#00ffff"/>
<rect x="438" y="418" width="2" height="1" fill="#00ffff"/>
<rect x="439" y="419" width="1" height="1" fill="#00ffff"/>
<rect x="443" y="418" width="2" height="1" fill="#00ffff"/>
<rect x="444" y="419" width="1" height="1" fill="#00ffff"/>
<rect x="449" y="418" width="2" height="1" fill="#00ffff"/>
<rect x="449" y="419" width="1" height="1" fill="#00ffff"/>
<rect x="454" y="418" width="2" height="1" fill="#00ffff"/>
<rect x="455" y="419" width="1" height="1" fill="#00ffff"/>
<rect x="460" y="418" width="2" height="1" fill="#00ffff"/>
<rect x="461" y="419" width="1" height="1" fill="#00ffff"/>
<rect x="465" y="418" width="2" height="1" fill="#00ffff"/>
<rect x="465" y="419" width="1" height="1" fill="#00ffff"/>
<rect x="471" y="418" width="2" height="1" fill="#00ffff"/>
<rect x="472" y="419" width="1" height="1" fill="#00ffff"/>
<rect x="432" y="426" width="2" height="1" fill="#00ffff"/>
<rect x="433" y="427" width="1" height="1" fill="#00ffff"/>
<rect x="438" y="426" width="2" height="1" fill="#00ffff"/>
<rect x="439" y="427" width="1" height="1" fill="#00ffff"/>
<rect x="443" y="426" width="2" height="1" fill="#00ffff"/>
<rect x="443" y="427" width="1" height="1" fill="#00ffff"/>
<rect x="449" y="426" width="2" height="1" fill="#00ffff"/>
<rect x="450" y="427" width="1" height="1" fill="#00ffff"/>
<rect x="454" y="426" width="2" height="1" fill="#00ffff"/>
<rect x="455" y="427" width="1" height="1" fill="#00ffff"/>
<rect x="460" y="426" width="2" height="1" fill="#00ffff"/>
<rect x="460" y="427" width="1" height="1" fill="#00ffff"/>
<rect x="465" y="426" width="2" height="1" fill="#00ffff"/>
<rect x="466" y="427" width="1" height="1" fill="#00ffff"/>
<rect x="471" y="426" width="2" height="1" fill="#00ffff"/>
<rect x="472" y="427" width="1" height="1" fill="#00ffff"/>
<rect x="432" y="433" width="2" height="1" fill="#00ffff"/>
<rect x="433" y="434" width="1" height="1" fill="#00ffff"/>
<rect x="438" y="433" width="2" height="1" fill="#00ffff"/>
<rect x="438" y="434" width="1" height="1" fill="#00ffff"/>
<rect x="443" y="433" width="2" height="1" fill="#00ffff"/>
<rect x="444" y="434" width="1" height="1" fill="#00ffff"/>
<rect x="449" y="433" width="2" height="1" fill="#00ffff"/>
<rect x="450" y="434" width="1" height="1" fill="#00ffff"/>
<rect x="454" y="433" width="2" height="1" fill="#00ffff"/>
<rect x="454" y="434" width="1" height="1" fill="#00ffff"/>
<rect x="460" y="433" width="2" height="1" fill="#00ffff"/>
<rect x="461" y="434" width="1" height="1" fill="#00ffff"/>
<rect x="465" y="433" width="2" height="1" fill="#00ffff"/>
<rect x="466" y="434" width="1" height="1" fill="#00ffff"/>
<rect x="471" y="433" width="2" height="1" fill="#00ffff"/>
<rect x="471" y="434" width="1" height="1" fill="#00ffff"/>
<rect x="405.5" y="443.5" width="16" height="16" stroke="#0000ff" stroke-width="1" fill="none"/>
<path d="M407.5,451.5 L419.5,451.5" stroke="#00ffff" stroke-width="1" fill="none" />
<path d="M413.5,444.5 L413.5,457.5" stroke="#00ffff" stroke-width="1" fill="none" />
<rect x="412" y="450" width="3" height="3" fill="#00ffff"/>
<rect x="556.5" y="264.5" width="73" height="54" stroke="#00ffff" stroke-width="1" fill="none"/>
<path d="M557.5,269.5 L617.5,269.5" stroke="#0000ff" stroke-width="1" fill="none" />
<path d="M557.5,271.5 L617.5,271.5" stroke="#0000ff" stroke-width="1" fill="none" />
<path d="M557.5,282.5 L617.5,282.5" stroke="#0000ff" stroke-width="1" fill="none" />
<path d="M557.5,284.5 L617.5,284.5" stroke="#0000ff" stroke-width="1" fill="none" />
<path d="M557.5,299.5 L617.5,299.5" stroke="#0000ff" stroke-width="1" fill="none" />
<path d="M557.5,301.5 L617.5,301.5" stroke="#0000ff" stroke-width="1" fill="none" />
<path d="M557.5,312.5 L617.5,312.5" stroke="#0000ff" stroke-width="1" fill="none" />
<path d="M557.5,314.5 L617.5,314.5" stroke="#0000ff" stroke-width="1" fill="none" />
<path d="M629.5,267.5 L617.5,267.5 L617.5,286.5 L629.5,286.5" stroke="#ffff00" stroke-width="1" fill="none" />
<path d="M617.5,285.5 L629.5,285.5" stroke="#0000ff" stroke-width="1" fill="none" />
<path d="M629.5,298.5 L617.5,298.5" stroke="#ffff00" stroke-width="1" fill="none" />
<path d="M617.5,299.5 L617.5,315.5" stroke="#ffff00" stroke-width="1" fill="none" />
<path d="M617.5,316.5 L629.5,316.5" stroke="#ffff00" stroke-width="1" fill="none" />
<path d="M617.5,314.5 L629.5,314.5" stroke="#0000ff" stroke-width="1" fill="none" />
<rect x="241" y="367" width="21" height="2" fill="#00ff00"/>
<rect x="241" y="367" width="3" height="18" fill="#00ff00"/>
<rect x="260" y="367" width="2" height="18" fill="#00ff00"/>
<rect x="241" y="380" width="20" height="2" fill="#00ff00"/>
<rect x="251" y="375" width="2" height="10" fill="#00ff00"/>
<rect x="250" y="374" width="4" height="1" fill="#00ff00"/>
<rect x="249" y="383" width="6" height="2" fill="#00ff00"/>
<rect x="244" y="369" width="1" height="1" fill="#00ff00"/>
<rect x="259" y="369" width="1" height="1" fill="#00ff00"/>
<rect x="550" y="367" width="22" height="2" fill="#00ff00"/>
<rect x="550" y="367" width="3" height="18" fill="#00ff00"/>
<rect x="570" y="367" width="2" height="18" fill="#00ff00"/>
<rect x="550" y="380" width="21" height="2" fill="#00ff00"/>
<rect x="560" y="375" width="2" height="10" fill="#00ff00"/>
<rect x="559" y="374" width="4" height="1" fill="#00ff00"/>
<rect x="558" y="383" width="6" height="2" fill="#00ff00"/>
<rect x="553" y="369" width="1" height="1" fill="#00ff00"/>
<rect x="569" y="369" width="1" height="1" fill="#00ff00"/>
<path d="M550.5,359.5 L546.5,359.5" stroke="#00ff00" stroke-width="1" fill="none" />
<rect x="241" y="437" width="9" height="20" fill="#00ffff"/>
<rect x="243" y="439" width="4" height="16" fill="#000"/>
<rect x="249" y="453" width="2" height="4" fill="#00ffff"/>
<rect x="552.5" y="415.5" width="24" height="55" stroke="#0000ff" stroke-width="1" fill="none"/>
<path d="M553.5,415.5 L553.5,470.5" stroke="#0000ff" stroke-width="2" fill="none" />
<path d="M555.5,418.5 L574.5,418.5 L574.5,455 L568,464.5 L561,464.5 L555.5,455 Z" fill="none" stroke="#0000ff"/>
<path d="M557.5,421 L572.5,421 L572.5,454 L567,462 L562,462 L557.5,454 Z" fill="none" stroke="#0000ff"/>
<rect x="563" y="417" width="4" height="2" fill="#0000ff"/>
<rect x="603" y="462" width="21" height="8" fill="#00ffff"/>
<rect x="605" y="464" width="17" height="4" fill="#000"/>
</g>
<g><circle cx="225.8" cy="82.8" r="3.3" fill="#808080" stroke="#ffff00" stroke-width="1.3"/>
<path d="M222.3,79.3 l7,7 M222.3,86.3 l7,-7" stroke="#ffff00" stroke-width="0.9"/>
<circle cx="238.8" cy="82.8" r="3.3" fill="#808080" stroke="#ffff00" stroke-width="1.3"/>
<path d="M235.3,79.3 l7,7 M235.3,86.3 l7,-7" stroke="#ffff00" stroke-width="0.9"/>
<circle cx="475.5" cy="85.5" r="4" fill="none" stroke="#00ffff" stroke-width="1.25"/>
<circle cx="475.5" cy="159.5" r="4" fill="none" stroke="#00ffff" stroke-width="1.25"/>
<circle cx="313.5" cy="377.5" r="4" fill="none" stroke="#00ffff" stroke-width="1.25"/>
<circle cx="313.5" cy="451.5" r="4" fill="none" stroke="#00ffff" stroke-width="1.25"/>
<circle cx="413.5" cy="377.5" r="4" fill="none" stroke="#00ffff" stroke-width="1.25"/>
<circle cx="413.5" cy="451.5" r="4" fill="none" stroke="#00ffff" stroke-width="1.25"/>
<ellipse cx="564.5" cy="276.5" rx="4.2" ry="5.2" fill="none" stroke="#0000ff" stroke-width="1.1"/>
<ellipse cx="569.1" cy="276.5" rx="4.2" ry="5.2" fill="none" stroke="#0000ff" stroke-width="1.1"/>
<ellipse cx="573.7" cy="276.5" rx="4.2" ry="5.2" fill="none" stroke="#0000ff" stroke-width="1.1"/>
<ellipse cx="578.3" cy="276.5" rx="4.2" ry="5.2" fill="none" stroke="#0000ff" stroke-width="1.1"/>
<ellipse cx="582.9" cy="276.5" rx="4.2" ry="5.2" fill="none" stroke="#0000ff" stroke-width="1.1"/>
<ellipse cx="587.5" cy="276.5" rx="4.2" ry="5.2" fill="none" stroke="#0000ff" stroke-width="1.1"/>
<ellipse cx="592.1" cy="276.5" rx="4.2" ry="5.2" fill="none" stroke="#0000ff" stroke-width="1.1"/>
<ellipse cx="596.7" cy="276.5" rx="4.2" ry="5.2" fill="none" stroke="#0000ff" stroke-width="1.1"/>
<ellipse cx="601.3" cy="276.5" rx="4.2" ry="5.2" fill="none" stroke="#0000ff" stroke-width="1.1"/>
<ellipse cx="605.9" cy="276.5" rx="4.2" ry="5.2" fill="none" stroke="#0000ff" stroke-width="1.1"/>
<ellipse cx="610.5" cy="276.5" rx="4.2" ry="5.2" fill="none" stroke="#0000ff" stroke-width="1.1"/>
<ellipse cx="615.1" cy="276.5" rx="4.2" ry="5.2" fill="none" stroke="#0000ff" stroke-width="1.1"/>
<ellipse cx="564.5" cy="306.5" rx="4.2" ry="5.2" fill="none" stroke="#0000ff" stroke-width="1.1"/>
<ellipse cx="569.1" cy="306.5" rx="4.2" ry="5.2" fill="none" stroke="#0000ff" stroke-width="1.1"/>
<ellipse cx="573.7" cy="306.5" rx="4.2" ry="5.2" fill="none" stroke="#0000ff" stroke-width="1.1"/>
<ellipse cx="578.3" cy="306.5" rx="4.2" ry="5.2" fill="none" stroke="#0000ff" stroke-width="1.1"/>
<ellipse cx="582.9" cy="306.5" rx="4.2" ry="5.2" fill="none" stroke="#0000ff" stroke-width="1.1"/>
<ellipse cx="587.5" cy="306.5" rx="4.2" ry="5.2" fill="none" stroke="#0000ff" stroke-width="1.1"/>
<ellipse cx="592.1" cy="306.5" rx="4.2" ry="5.2" fill="none" stroke="#0000ff" stroke-width="1.1"/>
<ellipse cx="596.7" cy="306.5" rx="4.2" ry="5.2" fill="none" stroke="#0000ff" stroke-width="1.1"/>
<ellipse cx="601.3" cy="306.5" rx="4.2" ry="5.2" fill="none" stroke="#0000ff" stroke-width="1.1"/>
<ellipse cx="605.9" cy="306.5" rx="4.2" ry="5.2" fill="none" stroke="#0000ff" stroke-width="1.1"/>
<ellipse cx="610.5" cy="306.5" rx="4.2" ry="5.2" fill="none" stroke="#0000ff" stroke-width="1.1"/>
<ellipse cx="615.1" cy="306.5" rx="4.2" ry="5.2" fill="none" stroke="#0000ff" stroke-width="1.1"/>
<path d="M249.5,443.5 L253.5,442 L258,442 L264,439.5 L272.5,446 L264,453.5 L258,452 L253.5,452 L249.5,450.5" fill="none" stroke="#00ffff" stroke-width="1.2"/>
<path d="M257,442.5 L254.5,444 L254.5,450 L257,451.5 M259,441.5 L264,441 L270.5,446 L264,452 L259,452.5 M270.5,444.5 L272.5,444.5 L272.5,448 L270.5,448" fill="none" stroke="#00ffff" stroke-width="1"/>
<path d="M613.5,439 L620.8,446.5 L618.5,461.5 M608.8,461.5 L606,446.5 L613.5,439" fill="none" stroke="#00ffff" stroke-width="1.2"/>
<path d="M608,455.5 Q613.5,458.5 619,455.5 M611,441.5 L616,441.5 L619,446.5 L617.5,455 M609.5,455 L608,446.5 L611,441.5" fill="none" stroke="#00ffff" stroke-width="1"/></g>
<g font-family="'Liberation Sans','Noto Sans CJK SC',sans-serif" font-weight="300" fill="#00ff00">
<g font-size="19">
<text transform="translate(50,66.3) scale(0.52,1)" fill="#0000ff">图四</text>
<text transform="translate(207,50.3) scale(0.62,1)">坎96四泄生</text>
<text transform="translate(400,20.6) scale(0.62,1)">丑向28二绝煞</text>
<text transform="translate(45,140.3) scale(0.62,1)">乾41九祸死</text>
<text transform="translate(71,441.8) scale(0.62,1)">兑39一六煞</text>
<text transform="translate(281,513.3) scale(0.62,1)">未山85五五生</text>
<text transform="translate(514,513.3) scale(0.62,1)">离17三天死</text>
<text transform="translate(637,74.3) scale(0.62,1)">震</text>
<text transform="translate(637.8,100.3) scale(0.6,1)">74</text>
<text transform="translate(637,125.3) scale(0.62,1)">六</text>
<text transform="translate(637,151.3) scale(0.62,1)">延</text>
<text transform="translate(637,176.3) scale(0.62,1)">死</text>
<text transform="translate(660,308.3) scale(0.62,1)">巽</text>
<text transform="translate(660.8,333.3) scale(0.6,1)">63</text>
<text transform="translate(660,358.3) scale(0.62,1)">七</text>
<text transform="translate(660,384.3) scale(0.62,1)">伏</text>
<text transform="translate(660,409.3) scale(0.62,1)">旺</text>
</g>
<g font-size="14">
<text transform="translate(58,199.8) scale(0.6,1)">书房</text>
<text transform="translate(172,227.8) scale(0.6,1)">餐厅</text>
<text transform="translate(388,174.8) scale(0.6,1)">客厅</text>
<text transform="translate(526,179.8) scale(0.6,1)">儿子房</text>
<text transform="translate(564,253.8) scale(0.6,1)">客房</text>
<text transform="translate(324,368.8) scale(0.6,1)">客房</text>
<text transform="translate(490,392.8) scale(0.6,1)">主人房</text>
<text transform="translate(332,62.8) scale(0.6,1)">阳台</text>
<text transform="translate(253,137.8) scale(0.6,1)">厨房</text>
<text transform="translate(255,357.8) scale(0.6,1)">洗手间</text>
<text transform="translate(577,362.8) scale(0.6,1)">洗手间</text>
<text transform="translate(269.5,429.8) scale(0.37,1)">卫生间</text>
<text transform="translate(592,429.8) scale(0.6,1)">卫生间</text>
</g>
<g font-size="13.3">
<text transform="translate(226,104.9) scale(0.64,1)">96</text>
<text transform="translate(243,104.9) scale(0.64,1)">28</text>
<text transform="translate(219,119.9) scale(0.64,1)">41</text>
<text transform="translate(255,116.9) scale(0.64,1)">74</text>
<text transform="translate(219,133.9) scale(0.64,1)">39</text>
<text transform="translate(256,130.9) scale(0.64,1)">63</text>
<text transform="translate(232,142.9) scale(0.64,1)">85</text>
<text transform="translate(246,142.9) scale(0.64,1)">17</text>
<text transform="translate(370,54.9) scale(0.64,1)">96</text>
<text transform="translate(381,54.9) scale(0.64,1)">28</text>
<text transform="translate(360,64.9) scale(0.64,1)">41</text>
<text transform="translate(395,61.9) scale(0.64,1)">74</text>
<text transform="translate(360,78.9) scale(0.64,1)">39</text>
<text transform="translate(397,76.9) scale(0.64,1)">63</text>
<text transform="translate(257,345.9) scale(0.64,1)">96</text>
<text transform="translate(269,345.9) scale(0.64,1)">28</text>
<text transform="translate(247,356.9) scale(0.64,1)">41</text>
<text transform="translate(281,354.9) scale(0.64,1)">74</text>
<text transform="translate(251,368.9) scale(0.64,1)">39</text>
<text transform="translate(281,366.9) scale(0.64,1)">63</text>
<text transform="translate(259,378.9) scale(0.64,1)">85</text>
<text transform="translate(272,378.9) scale(0.64,1)">17</text>
<text transform="translate(258,420.9) scale(0.64,1)">96</text>
<text transform="translate(269,420.9) scale(0.64,1)">28</text>
<text transform="translate(248,429.9) scale(0.64,1)">41</text>
<text transform="translate(285,429.9) scale(0.64,1)">74</text>
<text transform="translate(250,442.9) scale(0.64,1)">39</text>
<text transform="translate(282,441.9) scale(0.64,1)">63</text>
<text transform="translate(258,457.9) scale(0.64,1)">85</text>
<text transform="translate(272,451.9) scale(0.64,1)">17</text>
<text transform="translate(580,345.9) scale(0.64,1)">96</text>
<text transform="translate(592,345.9) scale(0.64,1)">28</text>
<text transform="translate(568,356.9) scale(0.64,1)">41</text>
<text transform="translate(604,353.9) scale(0.64,1)">74</text>
<text transform="translate(571,370.9) scale(0.64,1)">39</text>
<text transform="translate(604,367.9) scale(0.64,1)">63</text>
<text transform="translate(581,379.9) scale(0.64,1)">85</text>
<text transform="translate(594,377.9) scale(0.64,1)">17</text>
<text transform="translate(580,419.9) scale(0.64,1)">96</text>
<text transform="translate(591,419.9) scale(0.64,1)">28</text>
<text transform="translate(571,443.9) scale(0.64,1)">39</text>
<text transform="translate(603,440.9) scale(0.64,1)">63</text>
<text transform="translate(582,454.9) scale(0.64,1)">85</text>
<text transform="translate(595,450.9) scale(0.64,1)">17</text>
</g>
</g>
<rect x="0" y="520" width="683" height="1" fill="#ffffff"/>
</svg>
</body></html>
